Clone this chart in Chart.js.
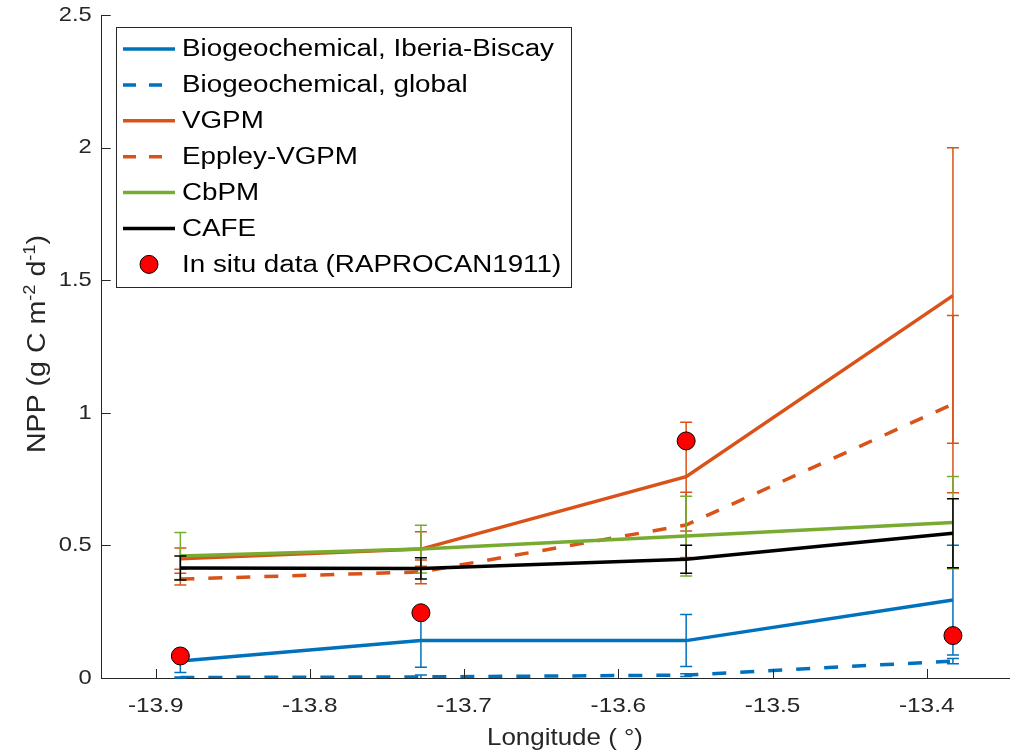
<!DOCTYPE html>
<html>
<head>
<meta charset="utf-8">
<script src="https://cdn.jsdelivr.net/npm/chart.js@4"></script>
<style>
  html, body { margin: 0; padding: 0; background: #fff; }
  #wrap { width: 1010px; height: 754px; }
</style>
</head>
<body>
<div id="wrap"><canvas id="nppChart" width="1010" height="754"></canvas></div>
<script>
// station longitudes
const lon = [-13.884, -13.728, -13.556, -13.383];

const bioIB = [0.064, 0.141, 0.141, 0.294];
const bioIBErr = [0.043, 0.100, 0.098, 0.207];
const bioGlobal = [0.002, 0.004, 0.011, 0.064];
const bioGlobalErr = [0.002, 0.007, 0.005, 0.010];
const vgpm = [0.450, 0.486, 0.759, 1.442];
const vgpmErr = [0.040, 0.065, 0.205, 0.557];
const eppley = [0.373, 0.400, 0.577, 1.033];
const eppleyErr = [0.022, 0.045, 0.123, 0.334];
const cbpm = [0.460, 0.486, 0.535, 0.586];
const cbpmErr = [0.089, 0.090, 0.150, 0.174];
const cafe = [0.415, 0.413, 0.448, 0.546];
const cafeErr = [0.045, 0.040, 0.053, 0.130];
const insitu = [0.083, 0.246, 0.894, 0.160];

const xTicks = [-13.9, -13.8, -13.7, -13.6, -13.5, -13.4];
const yTicks = [0, 0.5, 1, 1.5, 2, 2.5];

const BLUE = '#0072BD', ORANGE = '#D95319', GREEN = '#77AC30';
const AXIS = '#262626';
const FONT = '"Liberation Sans", Arial, sans-serif';

const xy = (vals) => vals.map((v, i) => ({x: lon[i], y: v}));

const lineSet = (label, vals, err, color, dash, order) => ({
    label: label,
    data: xy(vals),
    errors: err,
    borderColor: color,
    backgroundColor: color,
    borderWidth: 3.5,
    borderDash: dash,
    borderCapStyle: 'butt',
    pointRadius: 0,
    tension: 0,
    fill: false,
    order: order
});

const datasets = [
    lineSet('Biogeochemical, Iberia-Biscay', bioIB, bioIBErr, BLUE, [], 7),
    lineSet('Biogeochemical, global', bioGlobal, bioGlobalErr, BLUE, [14, 14], 6),
    lineSet('VGPM', vgpm, vgpmErr, ORANGE, [], 5),
    lineSet('Eppley-VGPM', eppley, eppleyErr, ORANGE, [14, 14], 4),
    lineSet('CbPM', cbpm, cbpmErr, GREEN, [], 3),
    lineSet('CAFE', cafe, cafeErr, '#000000', [], 2),
    {
        label: 'In situ data (RAPROCAN1911)',
        data: xy(insitu),
        showLine: false,
        pointRadius: 9,
        pointBackgroundColor: '#FF0000',
        pointBorderColor: '#000000',
        pointBorderWidth: 1,
        order: 1
    }
];

// text a bit wider than Liberation Sans, like the original figure
const wideText = (ctx, text, x, y, size, sx, align) => {
    ctx.save();
    ctx.font = size + 'px ' + FONT;
    ctx.textAlign = 'left';
    const w = ctx.measureText(text).width * sx;
    const x0 = align === 'right' ? x - w : align === 'center' ? x - w / 2 : x;
    ctx.translate(x0, y);
    ctx.scale(sx, 1);
    ctx.fillText(text, 0, 0);
    ctx.restore();
};

// error bars, drawn right after each line so the stacking follows the lines
const errorBars = {
    id: 'errorBars',
    afterDatasetDraw(chart, args) {
        const ds = chart.data.datasets[args.index];
        if (!ds.errors) return;
        const ctx = chart.ctx;
        const xs = chart.scales.x, ys = chart.scales.y;
        ctx.save();
        ctx.strokeStyle = ds.borderColor;
        ctx.lineWidth = 1.5;
        ctx.setLineDash([]);
        ds.data.forEach((p, i) => {
            const e = ds.errors[i];
            const px = xs.getPixelForValue(p.x);
            const top = ys.getPixelForValue(p.y + e);
            const bot = ys.getPixelForValue(Math.max(p.y - e, 0));
            ctx.beginPath();
            ctx.moveTo(px, top); ctx.lineTo(px, bot);
            ctx.moveTo(px - 6, top); ctx.lineTo(px + 6, top);
            if (p.y - e >= 0) { ctx.moveTo(px - 6, bot); ctx.lineTo(px + 6, bot); }
            ctx.stroke();
        });
        ctx.restore();
    }
};

// inward ticks, tick labels, axis titles and the legend box
const decorations = {
    id: 'decorations',
    afterDraw(chart) {
        const ctx = chart.ctx;
        const xs = chart.scales.x, ys = chart.scales.y;
        const a = chart.chartArea;
        ctx.save();
        ctx.strokeStyle = AXIS;
        ctx.lineWidth = 1;
        ctx.beginPath();
        xTicks.forEach(t => {
            const px = Math.round(xs.getPixelForValue(t)) + 0.5;
            ctx.moveTo(px, a.bottom); ctx.lineTo(px, a.bottom - 9);
        });
        yTicks.forEach(t => {
            const py = Math.round(ys.getPixelForValue(t)) + 0.5;
            ctx.moveTo(a.left, py); ctx.lineTo(a.left + 9, py);
        });
        ctx.stroke();

        ctx.fillStyle = AXIS;
        ctx.textBaseline = 'middle';
        xTicks.forEach(t => {
            wideText(ctx, t.toFixed(1), xs.getPixelForValue(t), 706, 21, 1.16, 'center');
        });
        yTicks.forEach(t => {
            wideText(ctx, String(t), a.left - 10, ys.getPixelForValue(t), 21, 1.13, 'right');
        });

        // x axis title
        ctx.font = '24px ' + FONT;
        const xt = 'Longitude ( °)';
        wideText(ctx, xt, 565, 738, 24, 156 / ctx.measureText(xt).width, 'center');

        // y axis title, rotated, with superscripts
        ctx.save();
        ctx.translate(45, 344);
        ctx.rotate(-Math.PI / 2);
        ctx.textBaseline = 'alphabetic';
        const parts = [
            ['NPP (g C m', 25, 0], ['-2', 16, -10], [' d', 25, 0], ['-1', 16, -10], [')', 25, 0]
        ];
        let total = 0;
        parts.forEach(p => { ctx.font = p[1] + 'px ' + FONT; total += ctx.measureText(p[0]).width; });
        const sy = 218 / total;
        let cx = -total * sy / 2;
        parts.forEach(p => {
            ctx.font = p[1] + 'px ' + FONT;
            wideText(ctx, p[0], cx, p[2], p[1], sy, 'left');
            cx += ctx.measureText(p[0]).width * sy;
        });
        ctx.restore();
        ctx.restore();

        // legend
        ctx.save();
        ctx.fillStyle = '#fff';
        ctx.fillRect(116.5, 27.5, 455, 260);
        ctx.strokeStyle = AXIS;
        ctx.lineWidth = 1;
        ctx.strokeRect(116.5, 27.5, 455, 260);
        ctx.font = '23px ' + FONT;
        const lsx = 372 / ctx.measureText(chart.data.datasets[0].label).width;
        ctx.textBaseline = 'middle';
        chart.data.datasets.forEach((ds, i) => {
            const y = 49 + i * 35.9;
            if (ds.showLine === false) {
                ctx.beginPath();
                ctx.arc(149, y, 9, 0, Math.PI * 2);
                ctx.fillStyle = ds.pointBackgroundColor;
                ctx.fill();
                ctx.strokeStyle = ds.pointBorderColor;
                ctx.lineWidth = 1;
                ctx.stroke();
            } else {
                ctx.beginPath();
                ctx.strokeStyle = ds.borderColor;
                ctx.lineWidth = 3.5;
                ctx.lineCap = 'butt';
                if (ds.borderDash.length) ctx.setLineDash([13, 13]); else ctx.setLineDash([]);
                ctx.moveTo(123, y); ctx.lineTo(175, y);
                ctx.stroke();
                ctx.setLineDash([]);
            }
            ctx.fillStyle = '#000';
            wideText(ctx, ds.label, 182, y + 1, 23, lsx, 'left');
        });
        ctx.restore();
    }
};

const ctx = document.getElementById('nppChart');
new Chart(ctx, {
    type: 'line',
    data: { datasets: datasets },
    options: {
        responsive: false,
        animation: false,
        layout: { autoPadding: false, padding: { top: 15, right: 0, left: 0, bottom: 0 } },
        plugins: {
            legend: { display: false },
            tooltip: { enabled: false }
        },
        scales: {
            x: {
                type: 'linear',
                min: -13.935,
                max: -13.346,
                afterBuildTicks: (s) => { s.ticks = xTicks.map(v => ({value: v})); },
                afterFit: (s) => { s.height = 76; },
                grid: { display: false },
                border: { display: true, color: AXIS, width: 1 },
                ticks: { display: false }
            },
            y: {
                min: 0,
                max: 2.5,
                afterBuildTicks: (s) => { s.ticks = yTicks.map(v => ({value: v})); },
                afterFit: (s) => { s.width = 101.7; },
                grid: { display: false },
                border: { display: true, color: AXIS, width: 1 },
                ticks: { display: false }
            }
        }
    },
    plugins: [errorBars, decorations]
});
</script>
</body>
</html>
